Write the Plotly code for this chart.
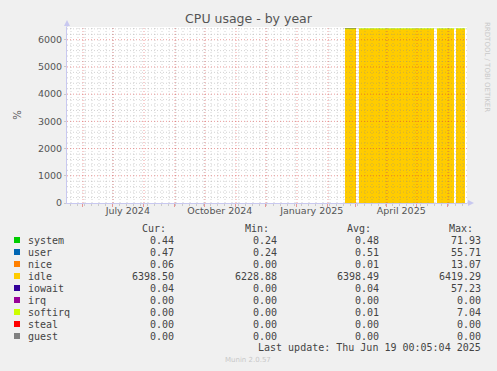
import plotly.graph_objects as go
import pandas as pd

# ---------------- data ----------------
seg_start = ["2025-02-18T17:00", "2025-03-04T17:00", "2025-05-21T17:00", "2025-06-09T17:00"]
seg_end = ["2025-03-01T17:00", "2025-05-18T17:00", "2025-06-07T17:00", "2025-06-19T00:05"]

series_names = ["system", "user", "nice", "idle", "iowait", "irq", "softirq", "steal", "guest"]
series_colors = ["#00CC00", "#0066B3", "#FF8000", "#FFCC00", "#330099",
                 "#990099", "#CCFF00", "#FF0000", "#808080"]

system_vals = [0.50, 0.48, 0.47, 0.45]
user_vals = [0.55, 0.51, 0.49, 0.47]
nice_vals = [0.01, 0.01, 0.01, 0.06]
idle_vals = [6398.4, 6398.5, 6398.5, 6398.5]
iowait_vals = [0.05, 0.04, 0.04, 0.04]
irq_vals = [0.0, 0.0, 0.0, 0.0]
softirq_vals = [0.01, 0.01, 0.01, 0.0]
steal_vals = [0.0, 0.0, 0.0, 0.0]
guest_vals = [0.0, 0.0, 0.0, 0.0]

cur_vals = [0.44, 0.47, 0.06, 6398.50, 0.04, 0.00, 0.00, 0.00, 0.00]
min_vals = [0.24, 0.24, 0.00, 6228.88, 0.00, 0.00, 0.00, 0.00, 0.00]
avg_vals = [0.48, 0.51, 0.01, 6398.49, 0.04, 0.00, 0.01, 0.00, 0.00]
max_vals = [71.93, 55.71, 13.07, 6419.29, 57.23, 0.00, 7.04, 0.00, 0.00]

x_range = ["2024-05-16T17:00", "2025-06-20T17:00"]
y_max = 6468
y_major_step = 1000
y_minor_step = 200
label_dates = ["2024-07-16T12:00", "2024-10-16T12:00", "2025-01-16T12:00", "2025-04-16T00:00"]
label_texts = ["July 2024", "October 2024", "January 2025", "April 2025"]
last_update = "Last update: Thu Jun 19 00:05:04 2025"

# ---------------- derived ----------------
starts = pd.to_datetime(pd.Series(seg_start))
ends = pd.to_datetime(pd.Series(seg_end))
mids = starts + (ends - starts) / 2
widths = [(e - s).total_seconds() * 1000 for s, e in zip(starts, ends)]

all_vals = [system_vals, user_vals, nice_vals, idle_vals, iowait_vals,
            irq_vals, softirq_vals, steal_vals, guest_vals]

fig = go.Figure()
fig.add_trace(go.Scatter(x=[], y=[], xaxis="x3", yaxis="y", showlegend=False))

for name, col, vals in zip(series_names, series_colors, all_vals):
    fig.add_trace(go.Bar(x=mids, y=vals, width=widths, marker_color=col,
                         marker_line_width=0, name=name, showlegend=False))

totals = [sum(v[i] for v in all_vals) for i in range(len(seg_start))]
lx, ly = [], []
for s, e, t in zip(seg_start, seg_end, totals):
    lx += [s, e, None]
    ly += [t, t, None]
fig.add_trace(go.Scatter(x=lx, y=ly, mode="lines", line=dict(color="#C8F000", width=1.2),
                         showlegend=False, hoverinfo="skip"))

axis_col = "#C8C8F0"
major_col = "rgba(220,60,60,0.5)"
minor_col = "rgba(140,140,140,0.38)"
dash = "1px,2px"
tick_font = dict(family="DejaVu Sans", size=9.5, color="#555555")

fig.update_layout(
    width=497, height=371,
    margin=dict(l=67, r=30, t=27, b=168),
    paper_bgcolor="#F0F0F0", plot_bgcolor="white",
    barmode="stack",
    showlegend=False,
    xaxis=dict(type="date", range=x_range, anchor="y",
               tick0="2024-01-01", dtick="M1", showticklabels=False,
               showgrid=False, ticks="outside", ticklen=3, tickcolor=major_col,
               minor=dict(dtick=7 * 86400000, tick0="2024-01-01", showgrid=False,
                          ticks="outside", ticklen=2, tickcolor=minor_col),
               showline=True, linecolor=axis_col, linewidth=1, zeroline=False),
    xaxis3=dict(type="date", range=x_range, overlaying="x", anchor="y",
                tickvals=label_dates, ticktext=label_texts, showgrid=False,
                ticks="", showline=False, zeroline=False, tickfont=tick_font),
    yaxis=dict(range=[0, y_max], anchor="x", side="left",
               dtick=y_major_step, tick0=0, showgrid=False, tickfont=tick_font,
               ticks="outside", ticklen=2, tickcolor=minor_col,
               showline=True, linecolor=axis_col, linewidth=1, zeroline=False,
               title=dict(text="%", font=dict(family="DejaVu Sans", size=10, color="#555555"),
                          standoff=14)),
    title=dict(text="CPU usage - by year", x=0.5, xanchor="center", y=1 - 19 / 371,
               yanchor="middle", font=dict(family="DejaVu Sans", size=12.5, color="#555555")),
)

shapes = []
# grid drawn above the data (as rrdtool does)
for d in pd.date_range(x_range[0], x_range[1], freq="W-MON"):
    shapes.append(dict(type="line", xref="x", yref="paper", x0=d, x1=d, y0=0, y1=1,
                       line=dict(color=minor_col, width=1, dash=dash), layer="above"))
v = y_minor_step
while v <= y_max:
    if v % y_major_step != 0:
        shapes.append(dict(type="line", xref="paper", yref="y", x0=0, x1=1, y0=v, y1=v,
                           line=dict(color=minor_col, width=1, dash=dash), layer="above"))
    v += y_minor_step
for d in pd.date_range(x_range[0], x_range[1], freq="MS"):
    shapes.append(dict(type="line", xref="x", yref="paper", x0=d, x1=d, y0=0, y1=1,
                       line=dict(color=major_col, width=1, dash=dash), layer="above"))
v = y_major_step
while v <= y_max:
    shapes.append(dict(type="line", xref="paper", yref="y", x0=0, x1=1, y0=v, y1=v,
                       line=dict(color=major_col, width=1, dash=dash), layer="above"))
    v += y_major_step

def px_x(px):
    return (px - 67) / 400.0

def px_y(py):
    return (203 - py) / 176.0

ann = []
mono = "DejaVu Sans Mono"
txt_col = "#444444"

for label, px in zip(["Cur:", "Min:", "Avg:", "Max:"], [140, 243, 345, 447]):
    ann.append(dict(x=px_x(px), y=px_y(228), xref="paper", yref="paper", text=label,
                    showarrow=False, xanchor="left", yanchor="middle",
                    font=dict(family=mono, size=10, color=txt_col)))

for i, name in enumerate(series_names):
    py = 240 + 12 * i
    shapes.append(dict(type="rect", xref="paper", yref="paper",
                       x0=px_x(14), x1=px_x(20), y0=px_y(py + 3), y1=px_y(py - 3),
                       fillcolor=series_colors[i], line=dict(width=0)))
    ann.append(dict(x=px_x(26), y=px_y(py), xref="paper", yref="paper", text=name,
                    showarrow=False, xanchor="left", yanchor="middle",
                    font=dict(family=mono, size=10, color=txt_col)))
    for vals, right in zip([cur_vals, min_vals, avg_vals, max_vals], [176, 279, 381, 483]):
        ann.append(dict(x=px_x(right), y=px_y(py), xref="paper", yref="paper",
                        text="%.2f" % vals[i], showarrow=False, xanchor="right",
                        yanchor="middle", font=dict(family=mono, size=10, color=txt_col)))

ann.append(dict(x=px_x(483), y=px_y(347), xref="paper", yref="paper", text=last_update,
                showarrow=False, xanchor="right", yanchor="middle",
                font=dict(family=mono, size=10, color=txt_col)))
ann.append(dict(x=px_x(248), y=px_y(360), xref="paper", yref="paper", text="Munin 2.0.57",
                showarrow=False, xanchor="center", yanchor="middle",
                font=dict(family="DejaVu Sans", size=7, color="#C8C8C8")))
ann.append(dict(x=px_x(487), y=px_y(20), xref="paper", yref="paper",
                text="RRDTOOL / TOBI OETIKER", textangle=90, showarrow=False,
                xanchor="center", yanchor="top",
                font=dict(family="DejaVu Sans", size=7, color="#C8C8C8")))

# axis arrows
shapes.append(dict(type="line", xref="paper", yref="paper", x0=0, x1=0,
                   y0=1, y1=px_y(22), line=dict(color=axis_col, width=1)))
shapes.append(dict(type="path", xref="paper", yref="paper",
                   path="M %f,%f L %f,%f L %f,%f Z" % (px_x(64), px_y(26), px_x(70), px_y(26),
                                                        px_x(67), px_y(20)),
                   fillcolor=axis_col, line=dict(width=0)))
shapes.append(dict(type="line", xref="paper", yref="paper", x0=1, x1=px_x(470),
                   y0=0, y1=0, line=dict(color=axis_col, width=1)))
shapes.append(dict(type="path", xref="paper", yref="paper",
                   path="M %f,%f L %f,%f L %f,%f Z" % (px_x(468), px_y(200), px_x(468), px_y(206),
                                                        px_x(474), px_y(203)),
                   fillcolor=axis_col, line=dict(width=0)))

fig.update_layout(annotations=ann, shapes=shapes)
fig.write_html("out.html")
